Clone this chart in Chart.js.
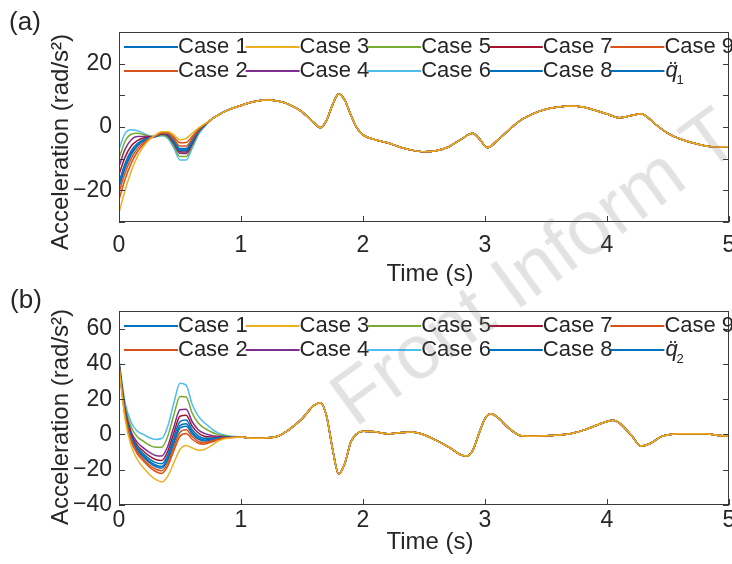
<!DOCTYPE html>
<html>
<head>
<meta charset="utf-8">
<script src="https://cdn.jsdelivr.net/npm/chart.js@4/dist/chart.umd.min.js"></script>
<style>
  body { margin: 0; background: #fff; }
  #wrap { position: relative; width: 732px; height: 564px; overflow: hidden; background: #fff; }
  #wrap canvas { position: absolute; left: 0; }
  #mark {
    position: absolute; left: 362px; top: 362px; white-space: nowrap;
    font: 76px "Liberation Sans", Arial, sans-serif; line-height: 76px;
    color: rgba(110, 110, 110, 0.2); transform: rotate(-36deg); transform-origin: 0 100%;
    pointer-events: none;
  }
</style>
</head>
<body>
<div id="wrap">
  <canvas id="chartA" width="732" height="290" style="top:0"></canvas>
  <canvas id="chartB" width="732" height="282" style="top:282px"></canvas>
  <div id="mark">Front Inform T</div>
</div>
<script>
// ---- data ----
const xTicks = [0, 1, 2, 3, 4, 5];

// panel (a): joint 1
const yTicksA = [-30, -20, -10, 0, 10, 20, 30];
const yLabelsA = [-20, 0, 20];
const timeEarlyA = [0, 0.05, 0.1, 0.15, 0.2, 0.25, 0.3, 0.35, 0.4, 0.45, 0.5, 0.55, 0.6, 0.65, 0.7];
const a1 = [-17.5, -11.5, -7.5, -5.2, -4, -3.4, -2.9, -2, -2.3, -4.8, -7.5, -7.5, -4.8, -1.3, 0.5];
const a2 = [-20.5, -14.5, -10, -6.9, -5, -3.7, -2.8, -1.8, -2, -3.8, -6, -6, -3.6, -0.9, 0.7];
const a3 = [-27, -20, -14, -9.4, -6.2, -3.9, -2.5, -1.5, -1.5, -2.5, -4.1, -3.6, -2, -0.4, 0.9];
const a4 = [-12.5, -7, -4, -3, -3, -3, -2.9, -2.3, -2.8, -5.3, -8.3, -8.4, -5.4, -1.7, 0.4];
const a5 = [-10, -4.5, -2.3, -2, -2.4, -2.9, -3, -2.5, -3.2, -6, -9.3, -9.3, -6, -2, 0.3];
const a6 = [-7, -2, -0.9, -1.2, -2, -2.8, -3.1, -2.8, -3.6, -6.7, -10.4, -10.4, -6.7, -2.5, 0.1];
const a7 = [-15, -9.5, -6, -4.3, -3.5, -3.2, -2.9, -2.1, -2.5, -5, -7.8, -7.9, -5, -1.4, 0.5];
const a8 = [-19, -13, -8.8, -6, -4.5, -3.6, -2.8, -1.9, -2.2, -4.3, -6.8, -6.8, -4.3, -1.1, 0.6];
const a9 = [-23, -16.5, -11.5, -7.9, -5.5, -3.8, -2.7, -1.7, -1.8, -3.2, -5, -4.9, -3, -0.7, 0.8];
const aq = [-18, -12.5, -8.3, -5.8, -4.3, -3.5, -2.9, -2, -2.2, -4.5, -7, -7, -4.5, -1.2, 0.6];
const timeTailA = [0.75, 0.8, 0.9, 1.0, 1.1, 1.2, 1.3, 1.4, 1.5, 1.6, 1.65, 1.7, 1.75, 1.8, 1.85, 1.9, 1.95, 2.0, 2.1, 2.2,
  2.3, 2.4, 2.5, 2.6, 2.7, 2.8, 2.9, 2.95, 3.02, 3.1, 3.2, 3.3, 3.4, 3.5, 3.6, 3.7, 3.8, 3.9, 4.0, 4.1,
  4.2, 4.28, 4.35, 4.4, 4.5, 4.6, 4.7, 4.8, 4.9, 5.0];
const tailA = [2.2, 3.5, 5.5, 6.8, 8.0, 8.5, 8.2, 7.0, 4.8, 1.3, -0.2, 2.0, 7.0, 10.4, 8.5, 3.8, -0.3, -2.5, -4.0, -5.0,
  -6.3, -7.3, -7.8, -7.5, -6.3, -4.0, -2.0, -3.6, -6.5, -4.3, -0.8, 2.3, 4.3, 5.6, 6.3, 6.6, 6.3, 5.3, 4.1, 2.9,
  3.6, 4.2, 2.5, 0.8, -2.0, -3.8, -5.0, -5.9, -6.3, -6.2];

// panel (b): joint 2
const yTicksB = [-40, -20, 0, 20, 40, 60];
const yLabelsB = [-40, -20, 0, 20, 40, 60];
const timeEarlyB = [0, 0.05, 0.1, 0.15, 0.2, 0.25, 0.3, 0.35, 0.4, 0.45, 0.5, 0.55, 0.6, 0.65, 0.7, 0.75, 0.8, 0.85, 0.9, 0.95];
const b1 = [39.7, 12.5, -1, -7.4, -11, -14, -16, -16.6, -11.7, -1.7, 7.3, 8.2, 2.7, -0.8, -2.2, -2.2, -2, -1.6, -1.6, -1.5];
const b2 = [38.8, 10.4, -3.9, -11, -15.1, -18.5, -21, -22.1, -17.9, -9.2, -1, 0.6, -2.7, -5, -5.5, -4.5, -3.3, -2.2, -1.9, -1.6];
const b3 = [38, 8.5, -6.6, -14.2, -18.9, -22.7, -25.5, -27, -23.6, -16, -8.5, -6.2, -7.6, -8.9, -8.5, -6.6, -4.4, -2.8, -2.1, -1.7];
const b4 = [40.4, 14.2, 1.4, -4.5, -7.6, -10.2, -11.9, -12.2, -6.6, 4.4, 14, 14.3, 7.2, 2.7, 0.6, -0.4, -1, -1.1, -1.4, -1.4];
const b5 = [41.2, 16.1, 4.1, -1.3, -3.8, -6.1, -7.3, -7.2, -1, 11.2, 21.5, 21.2, 12.1, 6.5, 3.6, 1.7, 0.2, -0.6, -1.1, -1.3];
const b6 = [42, 18, 6.8, 1.9, 0, -1.9, -2.8, -2.3, 4.7, 18, 29, 28, 17, 10.4, 6.6, 3.8, 1.3, 0, -0.9, -1.2];
const b7 = [40, 13.3, 0.1, -6.2, -9.5, -12.3, -14.2, -14.7, -9.5, 1, 10.3, 10.9, 4.7, 0.8, -1, -1.4, -1.6, -1.4, -1.5, -1.5];
const b8 = [39.4, 11.9, -1.8, -8.4, -12.1, -15.2, -17.3, -18.1, -13.4, -3.8, 5, 6.1, 1.3, -2, -3.1, -2.9, -2.3, -1.8, -1.7, -1.5];
const b9 = [39, 11, -3.1, -10, -14, -17.3, -19.6, -20.6, -16.2, -7.2, 1.3, 2.7, -1.2, -3.9, -4.6, -3.9, -2.9, -2.1, -1.8, -1.6];
const bq = [39.3, 11.5, -2.3, -9, -12.8, -16, -18.2, -19.1, -14.5, -5.1, 3.5, 4.7, 0.3, -2.7, -3.7, -3.3, -2.6, -1.9, -1.7, -1.5];
const timeTailB = [1.0, 1.1, 1.2, 1.3, 1.4, 1.5, 1.6, 1.65, 1.7, 1.75, 1.8, 1.85, 1.9, 1.95, 2.0, 2.1, 2.2, 2.3, 2.4, 2.5,
  2.6, 2.7, 2.8, 2.85, 2.9, 2.95, 3.0, 3.05, 3.1, 3.2, 3.3, 3.4, 3.5, 3.6, 3.7, 3.8, 3.9, 4.0, 4.05, 4.1,
  4.2, 4.28, 4.35, 4.45, 4.6, 4.8, 4.95, 5.0];
const tailB = [-1.5, -2.2, -2, -1, 3, 8.9, 16.6, 18, 10.8, -8, -22.3, -16.6, -4.3, 0.4, 1.8, 1.5, 0.4, 1, 1.4, -0.2,
  -3.4, -7.1, -11.5, -12.2, -9, 0.4, 9, 11.8, 9.9, 3.3, -0.8, -1, -0.8, -0.3, 0.4, 2.3, 4.8, 7.4, 8, 6.6,
  -0.5, -6.6, -5.3, -1.1, 0.4, 0.4, -0.8, -1];

// MATLAB default colour order
const colors = {
  'Case 1': '#0072BD', 'Case 2': '#D95319', 'Case 3': '#EDB120', 'Case 4': '#7E2F8E', 'Case 5': '#77AC30',
  'Case 6': '#4DBEEE', 'Case 7': '#A2142F', 'Case 8': '#0072BD', 'Case 9': '#D95319', 'q': '#0072BD'
};
const legendNames = ['Case 1', 'Case 2', 'Case 3', 'Case 4', 'Case 5', 'Case 6', 'Case 7', 'Case 8', 'Case 9', 'q'];

const ink = '#262626';
const family = '"Liberation Sans", Arial, sans-serif';
Chart.defaults.font.family = family;
Chart.defaults.color = ink;

function pts(times, vals, tailT, tailV) {
  return times.map((t, i) => ({ x: t, y: vals[i] })).concat(tailT.map((t, i) => ({ x: t, y: tailV[i] })));
}
function fmt(v) { return v < 0 ? '\u2212' + Math.abs(v) : String(v); }

// box, inward ticks, titles and the in-axes legend (MATLAB style)
const matlabFrame = {
  id: 'matlabFrame',
  afterDatasetsDraw(chart, args, o) {
    const { ctx, chartArea: a, scales: { x, y } } = chart;
    ctx.save();
    ctx.strokeStyle = '#3a3a3a';
    ctx.lineWidth = 1;
    ctx.strokeRect(a.left + 0.5, a.top + 0.5, a.right - a.left - 1, a.bottom - a.top - 1);
    ctx.beginPath();
    y.ticks.forEach(t => {
      const p = Math.round(y.getPixelForValue(t.value)) + 0.5;
      ctx.moveTo(a.left, p); ctx.lineTo(a.left + 6, p);
      ctx.moveTo(a.right, p); ctx.lineTo(a.right - 6, p);
    });
    x.ticks.forEach(t => {
      const p = Math.round(x.getPixelForValue(t.value)) + 0.5;
      ctx.moveTo(p, a.bottom); ctx.lineTo(p, a.bottom - 6);
    });
    ctx.stroke();

    // legend, filled column by column
    ctx.textBaseline = 'middle';
    ctx.textAlign = 'left';
    legendNames.forEach((name, i) => {
      const col = Math.floor(i / 2), row = i % 2;
      const x0 = a.left + 5 + col * 121.6;
      const yy = a.top + 15 + row * 24;
      ctx.strokeStyle = colors[name];
      ctx.lineWidth = 2;
      ctx.beginPath(); ctx.moveTo(x0, yy); ctx.lineTo(x0 + 54, yy); ctx.stroke();
      ctx.fillStyle = ink;
      if (name === 'q') {
        ctx.font = 'italic 22px ' + family;
        ctx.fillText('q\u0308', x0 + 55, yy);
        ctx.font = '13px ' + family;
        ctx.fillText(o.sub, x0 + 66, yy + 9);
      } else {
        ctx.font = '22px ' + family;
        ctx.fillText(name, x0 + 54, yy);
      }
    });

    // titles
    ctx.fillStyle = ink;
    ctx.textAlign = 'center';
    ctx.font = '24px ' + family;
    ctx.fillText('Time (s)', o.xTitle[0], o.xTitle[1]);
    ctx.save();
    ctx.translate(o.yTitle[0], o.yTitle[1]);
    ctx.rotate(-Math.PI / 2);
    ctx.fillText('Acceleration (rad/s\u00B2)', 0, 0);
    ctx.restore();
    ctx.font = '26px ' + family;
    ctx.fillText(o.panel, o.panelPos[0], o.panelPos[1]);
    ctx.restore();
  }
};

function makeChart(id, sets, cfg) {
  // dataset 0 is drawn last (on top): yellow Case 3 stays visible like in the figure
  const order = ['Case 3', 'Case 9', 'Case 2', 'Case 8', 'q', 'Case 1', 'Case 7', 'Case 4', 'Case 5', 'Case 6'];
  return new Chart(document.getElementById(id), {
    type: 'line',
    data: {
      datasets: order.map(name => ({
        label: name,
        data: sets[name],
        borderColor: colors[name],
        borderWidth: 1.5,
        pointRadius: 0,
        fill: false,
        cubicInterpolationMode: 'monotone'
      }))
    },
    options: {
      responsive: false,
      animation: false,
      devicePixelRatio: 1,
      layout: { padding: { top: cfg.top, right: 3, left: 0, bottom: 0 } },
      plugins: {
        legend: { display: false },
        tooltip: { enabled: false },
        matlabFrame: cfg.frame
      },
      scales: {
        x: {
          type: 'linear', min: 0, max: 5,
          afterBuildTicks: s => { s.ticks = xTicks.map(v => ({ value: v })); },
          afterFit: s => { s.height = cfg.xHeight; s.paddingLeft = 0; s.paddingRight = 0; },
          ticks: { font: { size: 23 }, color: ink, padding: cfg.xPad, maxRotation: 0 },
          grid: { display: false, drawTicks: false },
          border: { display: false }
        },
        y: {
          type: 'linear', min: cfg.yMin, max: cfg.yMax,
          afterBuildTicks: s => { s.ticks = cfg.yTicks.map(v => ({ value: v })); },
          afterFit: s => { s.width = 119; s.paddingTop = 0; s.paddingBottom = 0; },
          ticks: {
            font: { size: 23 }, color: ink, padding: 7,
            callback: v => cfg.yLabels.includes(v) ? fmt(v) : ''
          },
          grid: { display: false, drawTicks: false },
          border: { display: false }
        }
      }
    },
    plugins: [matlabFrame]
  });
}

makeChart('chartA', {
  'Case 1': pts(timeEarlyA, a1, timeTailA, tailA), 'Case 2': pts(timeEarlyA, a2, timeTailA, tailA),
  'Case 3': pts(timeEarlyA, a3, timeTailA, tailA), 'Case 4': pts(timeEarlyA, a4, timeTailA, tailA),
  'Case 5': pts(timeEarlyA, a5, timeTailA, tailA), 'Case 6': pts(timeEarlyA, a6, timeTailA, tailA),
  'Case 7': pts(timeEarlyA, a7, timeTailA, tailA), 'Case 8': pts(timeEarlyA, a8, timeTailA, tailA),
  'Case 9': pts(timeEarlyA, a9, timeTailA, tailA), 'q': pts(timeEarlyA, aq, timeTailA, tailA)
}, {
  top: 32, xHeight: 68, xPad: 10, yMin: -30, yMax: 30, yTicks: yTicksA, yLabels: yLabelsA,
  frame: { sub: '1', panel: '(a)', panelPos: [25, 23], xTitle: [430, 274], yTitle: [61, 142] }
});

makeChart('chartB', {
  'Case 1': pts(timeEarlyB, b1, timeTailB, tailB), 'Case 2': pts(timeEarlyB, b2, timeTailB, tailB),
  'Case 3': pts(timeEarlyB, b3, timeTailB, tailB), 'Case 4': pts(timeEarlyB, b4, timeTailB, tailB),
  'Case 5': pts(timeEarlyB, b5, timeTailB, tailB), 'Case 6': pts(timeEarlyB, b6, timeTailB, tailB),
  'Case 7': pts(timeEarlyB, b7, timeTailB, tailB), 'Case 8': pts(timeEarlyB, b8, timeTailB, tailB),
  'Case 9': pts(timeEarlyB, b9, timeTailB, tailB), 'q': pts(timeEarlyB, bq, timeTailB, tailB)
}, {
  top: 29, xHeight: 59, xPad: 2, yMin: -40, yMax: 70, yTicks: yTicksB, yLabels: yLabelsB,
  frame: { sub: '2', panel: '(b)', panelPos: [26, 19], xTitle: [430, 260], yTitle: [61, 135] }
});
</script>
</body>
</html>
